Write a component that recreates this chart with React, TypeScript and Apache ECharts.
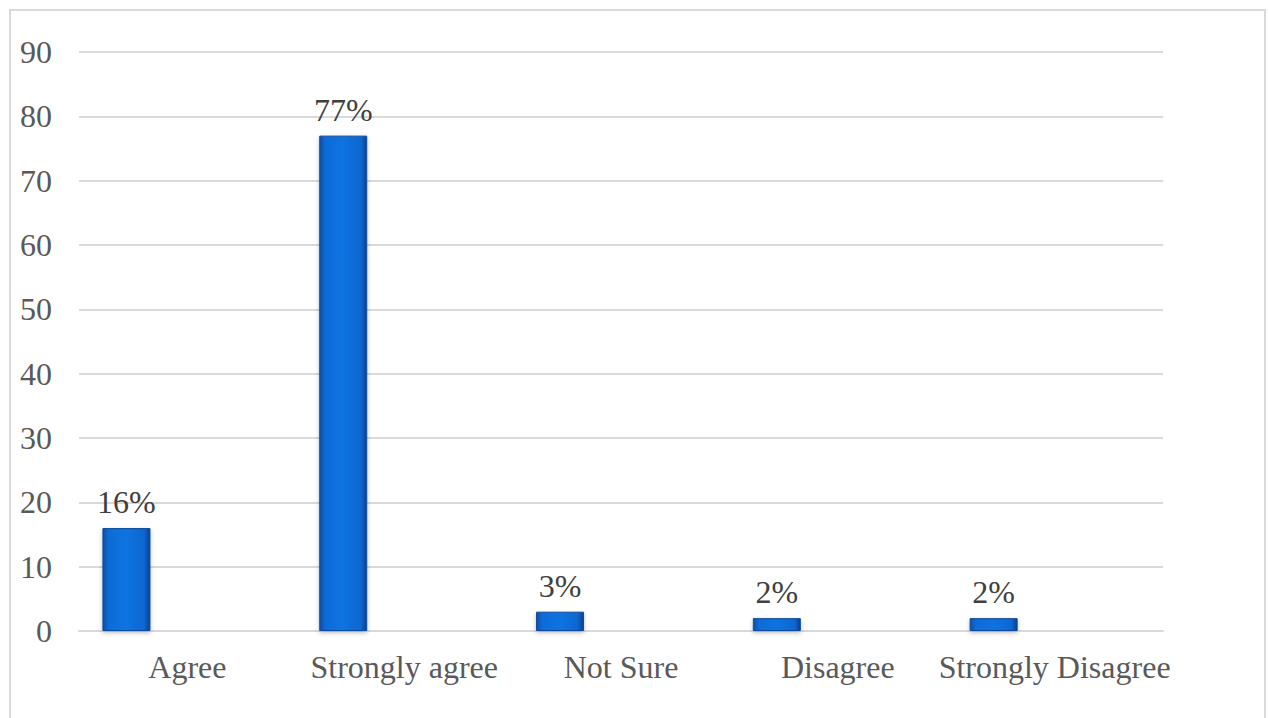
import React, { useEffect, useRef } from "react";
import * as echarts from "echarts";

const categories = ["Agree", "Strongly agree", "Not Sure", "Disagree", "Strongly Disagree"];
const values = [16, 77, 3, 2, 2];
const emptySeries = ["-", "-", "-", "-", "-"];
const yTicks = { min: 0, max: 90, interval: 10 };

export default function App() {
  const ref = useRef<HTMLDivElement>(null);
  useEffect(() => {
    if (!ref.current) return;
    const chart = echarts.init(ref.current, undefined, { renderer: "svg" });
    const font = "'Liberation Serif', 'Times New Roman', serif";
    chart.setOption({
      animation: false,
      backgroundColor: "#ffffff",
      graphic: [
        {
          type: "rect",
          shape: { x: 10, y: 10, width: 1255, height: 730 },
          style: { fill: "none", stroke: "#d9d9d9", lineWidth: 2 },
          silent: true,
        },
      ],
      grid: { left: 79, right: 106, top: 52, bottom: 87, containLabel: false },
      xAxis: {
        type: "category",
        data: categories,
        axisLine: { show: true, lineStyle: { color: "#d9d9d9", width: 2 } },
        axisTick: { show: false },
        axisLabel: {
          color: "#595959",
          fontFamily: font,
          fontSize: 32,
          margin: 20,
          interval: 0,
          hideOverlap: false,
        },
      },
      yAxis: {
        type: "value",
        min: yTicks.min,
        max: yTicks.max,
        interval: yTicks.interval,
        axisLine: { show: false },
        axisTick: { show: false },
        splitLine: { lineStyle: { color: "#d9d9d9", width: 2 } },
        axisLabel: { color: "#595959", fontFamily: font, fontSize: 32, margin: 27 },
      },
      series: [
        {
          type: "bar",
          data: values,
          barWidth: 48,
          barGap: "154%",
          itemStyle: {
            color: new echarts.graphic.LinearGradient(0, 0, 1, 0, [
              { offset: 0, color: "#0a4fa6" },
              { offset: 0.12, color: "#0b6bd6" },
              { offset: 0.5, color: "#0d74e2" },
              { offset: 0.88, color: "#0a66cf" },
              { offset: 1, color: "#063f8c" },
            ]),
            borderColor: "#0a4a9c",
            borderWidth: 1,
            shadowColor: "rgba(0,0,0,0.25)",
            shadowBlur: 4,
            shadowOffsetY: 2,
          },
          label: {
            show: true,
            position: "top",
            distance: 10,
            formatter: "{c}%",
            color: "#404040",
            fontFamily: font,
            fontSize: 32,
          },
        },
        {
          type: "bar",
          data: emptySeries,
          barWidth: 48,
        },
      ],
    });
    return () => chart.dispose();
  }, []);
  return (
    <div
      ref={ref}
      style={{ position: "fixed", left: 0, top: 0, width: 1269, height: 718 }}
    />
  );
}
